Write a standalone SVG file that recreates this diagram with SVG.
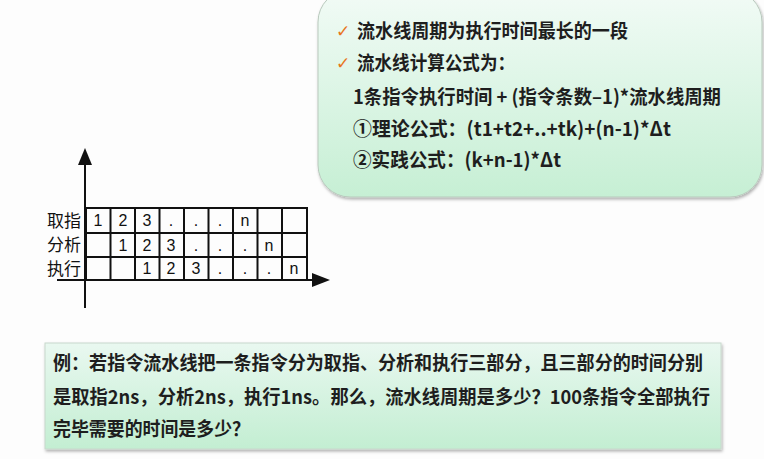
<svg xmlns="http://www.w3.org/2000/svg" width="764" height="459" viewBox="0 0 764 459">
  <defs>
    <linearGradient id="gTop" x1="0" y1="0" x2="0" y2="1">
      <stop offset="0" stop-color="#f2fbf6"/>
      <stop offset="1" stop-color="#c6efd4"/>
    </linearGradient>
    <linearGradient id="gBot" x1="0" y1="0" x2="0" y2="1">
      <stop offset="0" stop-color="#e9f8f0"/>
      <stop offset="1" stop-color="#c3eed2"/>
    </linearGradient>
    <filter id="sh" x="-5%" y="-5%" width="110%" height="115%">
      <feDropShadow dx="1" dy="2" stdDeviation="1.5" flood-color="#000" flood-opacity="0.3"/>
    </filter>
  </defs>
  <style>
    .t { font-family: "Noto Sans CJK SC", "Noto Sans", sans-serif; font-weight: bold; font-size: 19.5px; fill: #1e1e1e; }
    .b { font-size: 18.8px; }
    .chk { font-family: "DejaVu Sans", sans-serif; font-weight: bold; font-size: 17px; fill: #e8761c; }
    .lbl { font-family: "Noto Sans CJK SC", sans-serif; font-size: 17px; fill: #111; }
    .num { font-family: "Liberation Sans", Arial, sans-serif; font-size: 16px; fill: #111; text-anchor: middle; }
    .grid { fill: none; stroke: #111; stroke-width: 2; }
    .axis { stroke: #111; stroke-width: 2; }
  </style>
  <rect width="764" height="459" fill="#fdfdfd"/>

  <g id="formula-box">
    <rect x="318" y="-10" width="444" height="207" rx="32" ry="32" fill="url(#gTop)" stroke="#b9c9bd" stroke-width="1" filter="url(#sh)"/>
    <text class="chk" x="336" y="37">✓</text>
    <text class="t" x="357" y="38" textLength="271" lengthAdjust="spacingAndGlyphs">流水线周期为执行时间最长的一段</text>
    <text class="chk" x="336" y="69">✓</text>
    <text class="t" x="357" y="70" textLength="158" lengthAdjust="spacingAndGlyphs">流水线计算公式为：</text>
    <text class="t" x="353" y="104" textLength="368" lengthAdjust="spacingAndGlyphs">1条指令执行时间 + (指令条数–1)*流水线周期</text>
    <text class="t" x="353" y="136" textLength="318" lengthAdjust="spacingAndGlyphs">①理论公式：(t1+t2+..+tk)+(n-1)*Δt</text>
    <text class="t" x="353" y="167" textLength="208" lengthAdjust="spacingAndGlyphs">②实践公式：(k+n-1)*Δt</text>
  </g>

  <g id="axes">
    <line class="axis" x1="85" y1="308" x2="85" y2="162"/>
    <polygon points="85,148 78,165 92,165" fill="#111"/>
    <line class="axis" x1="57" y1="280" x2="315" y2="280"/>
    <polygon points="330,280 312,273 312,287" fill="#111"/>
  </g>

  <g id="pipeline-chart">
    <rect class="grid" x="86" y="208" width="221" height="72"/>
    <line class="grid" x1="86" y1="233" x2="307" y2="233"/>
    <line class="grid" x1="86" y1="257" x2="307" y2="257"/>
    <line class="grid" x1="110.5" y1="208" x2="110.5" y2="280"/>
    <line class="grid" x1="135" y1="208" x2="135" y2="280"/>
    <line class="grid" x1="159.5" y1="208" x2="159.5" y2="280"/>
    <line class="grid" x1="184" y1="208" x2="184" y2="280"/>
    <line class="grid" x1="208.5" y1="208" x2="208.5" y2="280"/>
    <line class="grid" x1="233" y1="208" x2="233" y2="280"/>
    <line class="grid" x1="257.5" y1="208" x2="257.5" y2="280"/>
    <line class="grid" x1="282" y1="208" x2="282" y2="280"/>

    <text class="lbl" x="47" y="227">取指</text>
    <text class="lbl" x="47" y="251">分析</text>
    <text class="lbl" x="47" y="275">执行</text>

    <text class="num" x="98" y="226">1</text>
    <text class="num" x="123" y="226">2</text>
    <text class="num" x="147" y="226">3</text>
    <text class="num" x="171" y="226">.</text>
    <text class="num" x="196" y="226">.</text>
    <text class="num" x="220" y="226">.</text>
    <text class="num" x="245" y="226">n</text>

    <text class="num" x="123" y="250.5">1</text>
    <text class="num" x="147" y="250.5">2</text>
    <text class="num" x="171" y="250.5">3</text>
    <text class="num" x="196" y="250.5">.</text>
    <text class="num" x="220" y="250.5">.</text>
    <text class="num" x="245" y="250.5">.</text>
    <text class="num" x="269" y="250.5">n</text>

    <text class="num" x="147" y="274">1</text>
    <text class="num" x="171" y="274">2</text>
    <text class="num" x="196" y="274">3</text>
    <text class="num" x="220" y="274">.</text>
    <text class="num" x="245" y="274">.</text>
    <text class="num" x="269" y="274">.</text>
    <text class="num" x="294" y="274">n</text>
  </g>

  <g id="example-box">
    <rect x="45" y="343" width="676" height="106" fill="url(#gBot)" stroke="#c8d8cc" stroke-width="1" filter="url(#sh)"/>
    <text class="t b" x="53" y="370" textLength="650" lengthAdjust="spacingAndGlyphs">例：若指令流水线把一条指令分为取指、分析和执行三部分，且三部分的时间分别</text>
    <text class="t b" x="53" y="404" textLength="657" lengthAdjust="spacingAndGlyphs">是取指2ns，分析2ns，执行1ns。那么，流水线周期是多少？100条指令全部执行</text>
    <text class="t b" x="53" y="436" textLength="197" lengthAdjust="spacingAndGlyphs">完毕需要的时间是多少？</text>
  </g>
</svg>
